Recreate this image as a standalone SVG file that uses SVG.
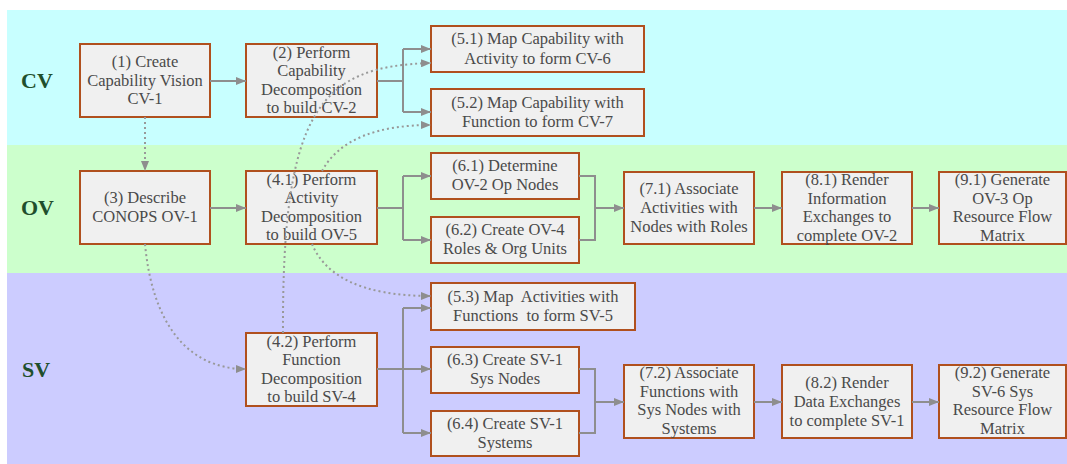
<svg xmlns="http://www.w3.org/2000/svg" width="1067" height="464" viewBox="0 0 1067 464">
  <defs>
    <marker id="arrow" viewBox="0 0 10 8" refX="10" refY="4" markerWidth="10" markerHeight="8" markerUnits="userSpaceOnUse" orient="auto">
      <path d="M0,0 L10,4 L0,8 z" fill="#8e8e8e"/>
    </marker>
    <style>
      .band-label { font-family: "Liberation Serif", "Times New Roman", serif; font-weight: bold; font-size: 22px; fill: #1f4f2c; }
      .box { fill: #f0f0f0; stroke: #b0501e; stroke-width: 2; }
      .label { font-family: "Liberation Serif", "Times New Roman", serif; font-size: 16.5px; fill: #4a4a4a; text-anchor: middle; white-space: pre; }
      .flow { fill: none; stroke: #8e8e8e; stroke-width: 2; }
      .dep { fill: none; stroke: #999999; stroke-width: 2; stroke-dasharray: 2 3; }
      .arr { marker-end: url(#arrow); }
    </style>
  </defs>

  <!-- swimlane bands -->
  <rect x="0" y="0" width="1067" height="464" fill="#ffffff"/>
  <rect x="7" y="10" width="1060" height="135" fill="#c8ffff"/>
  <rect x="7" y="145" width="1060" height="128" fill="#ccffcc"/>
  <rect x="7" y="273" width="1060" height="191" fill="#ccccff"/>
  <text class="band-label" x="21" y="88">CV</text>
  <text class="band-label" x="21" y="215">OV</text>
  <text class="band-label" x="22" y="377">SV</text>

  <!-- CV lane -->
  <g id="n1">
    <rect class="box" x="80" y="44" width="130" height="73"/>
    <text class="label" x="145" y="67">(1) Create</text>
    <text class="label" x="145" y="86">Capability Vision</text>
    <text class="label" x="145" y="104">CV-1</text>
  </g>
  <g id="n2">
    <rect class="box" x="246" y="44" width="131" height="73"/>
    <text class="label" x="311.5" y="58">(2) Perform</text>
    <text class="label" x="311.5" y="76">Capability</text>
    <text class="label" x="311.5" y="95">Decomposition</text>
    <text class="label" x="311.5" y="113">to build CV-2</text>
  </g>
  <g id="n5_1">
    <rect class="box" x="431" y="26" width="213" height="46"/>
    <text class="label" x="537.5" y="44">(5.1) Map Capability with</text>
    <text class="label" x="537.5" y="64">Activity to form CV-6</text>
  </g>
  <g id="n5_2">
    <rect class="box" x="431" y="89" width="213" height="47"/>
    <text class="label" x="537.5" y="108">(5.2) Map Capability with</text>
    <text class="label" x="537.5" y="127">Function to form CV-7</text>
  </g>

  <!-- OV lane -->
  <g id="n3">
    <rect class="box" x="80" y="171" width="130" height="73"/>
    <text class="label" x="145" y="203">(3) Describe</text>
    <text class="label" x="145" y="222">CONOPS OV-1</text>
  </g>
  <g id="n4_1">
    <rect class="box" x="246" y="171" width="131" height="73"/>
    <text class="label" x="311.5" y="185">(4.1) Perform</text>
    <text class="label" x="311.5" y="203">Activity</text>
    <text class="label" x="311.5" y="222">Decomposition</text>
    <text class="label" x="311.5" y="240">to build OV-5</text>
  </g>
  <g id="n6_1">
    <rect class="box" x="431" y="153" width="148" height="46"/>
    <text class="label" x="505" y="171">(6.1) Determine</text>
    <text class="label" x="505" y="190">OV-2 Op Nodes</text>
  </g>
  <g id="n6_2">
    <rect class="box" x="431" y="217" width="148" height="46"/>
    <text class="label" x="505" y="235">(6.2) Create OV-4</text>
    <text class="label" x="505" y="254">Roles &amp; Org Units</text>
  </g>
  <g id="n7_1">
    <rect class="box" x="624" y="172" width="130" height="72"/>
    <text class="label" x="689" y="194">(7.1) Associate</text>
    <text class="label" x="689" y="213">Activities with</text>
    <text class="label" x="689" y="232">Nodes with Roles</text>
  </g>
  <g id="n8_1">
    <rect class="box" x="782" y="172" width="130" height="72"/>
    <text class="label" x="847" y="185">(8.1) Render</text>
    <text class="label" x="847" y="204">Information</text>
    <text class="label" x="847" y="222">Exchanges to</text>
    <text class="label" x="847" y="241">complete OV-2</text>
  </g>
  <g id="n9_1">
    <rect class="box" x="939" y="172" width="127" height="72"/>
    <text class="label" x="1002.5" y="185">(9.1) Generate</text>
    <text class="label" x="1002.5" y="204">OV-3 Op</text>
    <text class="label" x="1002.5" y="222">Resource Flow</text>
    <text class="label" x="1002.5" y="241">Matrix</text>
  </g>

  <!-- SV lane -->
  <g id="n4_2">
    <rect class="box" x="246" y="333" width="131" height="73"/>
    <text class="label" x="311.5" y="347">(4.2) Perform</text>
    <text class="label" x="311.5" y="365">Function</text>
    <text class="label" x="311.5" y="384">Decomposition</text>
    <text class="label" x="311.5" y="402">to build SV-4</text>
  </g>
  <g id="n5_3">
    <rect class="box" x="431" y="283" width="204" height="47"/>
    <text class="label" x="533" y="302">(5.3) Map  Activities with</text>
    <text class="label" x="533" y="321">Functions  to form SV-5</text>
  </g>
  <g id="n6_3">
    <rect class="box" x="431" y="347" width="148" height="46"/>
    <text class="label" x="505" y="365">(6.3) Create SV-1</text>
    <text class="label" x="505" y="384">Sys Nodes</text>
  </g>
  <g id="n6_4">
    <rect class="box" x="431" y="411" width="148" height="45"/>
    <text class="label" x="505" y="429">(6.4) Create SV-1</text>
    <text class="label" x="505" y="448">Systems</text>
  </g>
  <g id="n7_2">
    <rect class="box" x="624" y="365" width="130" height="73"/>
    <text class="label" x="689" y="378">(7.2) Associate</text>
    <text class="label" x="689" y="397">Functions with</text>
    <text class="label" x="689" y="415">Sys Nodes with</text>
    <text class="label" x="689" y="434">Systems</text>
  </g>
  <g id="n8_2">
    <rect class="box" x="782" y="365" width="130" height="73"/>
    <text class="label" x="847" y="388">(8.2) Render</text>
    <text class="label" x="847" y="407">Data Exchanges</text>
    <text class="label" x="847" y="426">to complete SV-1</text>
  </g>
  <g id="n9_2">
    <rect class="box" x="939" y="365" width="127" height="73"/>
    <text class="label" x="1002.5" y="378">(9.2) Generate</text>
    <text class="label" x="1002.5" y="397">SV-6 Sys</text>
    <text class="label" x="1002.5" y="415">Resource Flow</text>
    <text class="label" x="1002.5" y="434">Matrix</text>
  </g>

  <!-- connectors -->
  <g id="connectors">
    <!-- solid flow -->
    <path class="flow arr" d="M210,81 H246"/>
    <path class="flow" d="M377,81 H403 M403,49 V112"/>
    <path class="flow arr" d="M403,49 H431"/>
    <path class="flow arr" d="M403,112 H431"/>

    <path class="flow arr" d="M210,208 H246"/>
    <path class="flow" d="M377,208 H403 M403,176 V240"/>
    <path class="flow arr" d="M403,176 H431"/>
    <path class="flow arr" d="M403,240 H431"/>
    <path class="flow" d="M579,176 H595 V240 H579"/>
    <path class="flow arr" d="M595,208 H624"/>
    <path class="flow arr" d="M754,208 H782"/>
    <path class="flow arr" d="M912,208 H939"/>

    <path class="flow" d="M377,369 H403 M403,308 V433"/>
    <path class="flow arr" d="M403,308 H431"/>
    <path class="flow arr" d="M403,369 H431"/>
    <path class="flow arr" d="M403,433 H431"/>
    <path class="flow" d="M579,369 H595 V433 H579"/>
    <path class="flow arr" d="M595,402 H624"/>
    <path class="flow arr" d="M754,402 H782"/>
    <path class="flow arr" d="M912,402 H939"/>

    <!-- dotted dependencies -->
    <path class="dep arr" d="M145,117 V171"/>
    <path class="dep arr" d="M283,333 C282,110 320,66 431,63"/>
    <path class="dep arr" d="M322,171 C340,138 380,125 431,125"/>
    <path class="dep arr" d="M312,244 C325,275 360,296 431,296"/>
    <path class="dep arr" d="M145,244 C152,320 185,369 246,369"/>
  </g>
</svg>
